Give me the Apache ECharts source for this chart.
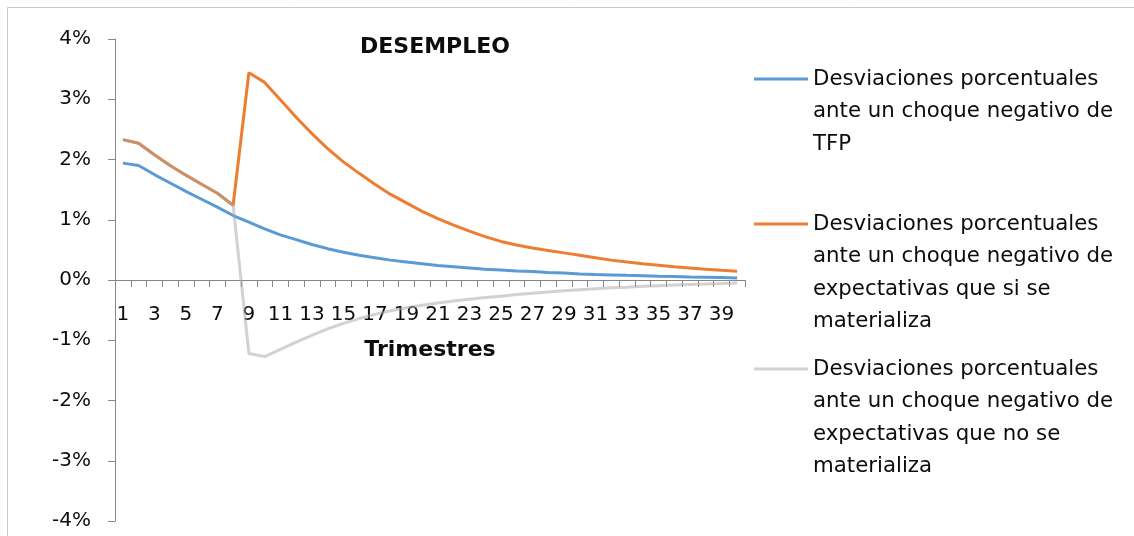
<!DOCTYPE html>
<html>
<head>
<meta charset="utf-8">
<script src="https://cdn.jsdelivr.net/npm/echarts/dist/echarts.min.js"></script>
<style>
	html, body { margin: 0; padding: 0; background: #fff; }
	#chart { width: 1134px; height: 536px; }
</style>
</head>
<body>
<div id="chart"></div>
<script>
// trimestres (eje x)
var quarters = ['1','2','3','4','5','6','7','8','9','10','11','12','13','14','15','16','17','18','19','20',
	'21','22','23','24','25','26','27','28','29','30','31','32','33','34','35','36','37','38','39','40'];

// desviaciones en %
var tfpShock = [1.94,1.90,1.75,1.61,1.47,1.34,1.21,1.07,0.96,0.85,0.75,0.67,0.59,0.52,0.46,0.41,0.37,0.33,0.30,0.27,
	0.24,0.22,0.20,0.18,0.165,0.15,0.14,0.125,0.115,0.10,0.092,0.085,0.077,0.07,0.063,0.057,0.05,0.045,0.04,0.035];
var expectMaterialized = [2.33,2.27,2.08,1.90,1.74,1.59,1.44,1.24,3.44,3.28,2.99,2.70,2.43,2.18,1.96,1.77,1.59,1.42,1.28,1.14,
	1.02,0.91,0.81,0.72,0.64,0.58,0.53,0.49,0.45,0.41,0.37,0.33,0.30,0.27,0.245,0.22,0.20,0.18,0.16,0.145];
var expectNotMaterialized = [2.33,2.27,2.08,1.90,1.74,1.59,1.44,1.24,-1.22,-1.27,-1.15,-1.03,-0.92,-0.81,-0.72,-0.64,-0.57,-0.51,-0.46,-0.42,
	-0.38,-0.35,-0.32,-0.29,-0.27,-0.24,-0.22,-0.20,-0.18,-0.16,-0.145,-0.13,-0.12,-0.105,-0.095,-0.085,-0.075,-0.065,-0.058,-0.05];

// eje y (en %)
var yMin = -4, yMax = 4, yStep = 1;

var seriesNames = [
	'Desviaciones porcentuales ante un choque negativo de TFP',
	'Desviaciones porcentuales ante un choque negativo de expectativas que si se materializa',
	'Desviaciones porcentuales ante un choque negativo de expectativas que no se materializa'
];
// lineas de la leyenda tal como aparecen
var legendLines = [
	['Desviaciones porcentuales', 'ante un choque negativo de', 'TFP'],
	['Desviaciones porcentuales', 'ante un choque negativo de', 'expectativas que si se', 'materializa'],
	['Desviaciones porcentuales', 'ante un choque negativo de', 'expectativas que no se', 'materializa']
];
var seriesColors = ['#5B9BD5', '#ED7D31', 'rgba(165,165,165,0.5)'];

var gridLeft = 115, gridTop = 39, gridW = 630, gridH = 482;
// el eje x va en el cero: se desplaza hacia arriba desde el borde inferior
var xAxisOffset = -gridH * (0 - yMin) / (yMax - yMin);

var legendTop = [79, 224, 369];

var graphics = [{
	type: 'rect',
	shape: { x: 7.5, y: 7.5, width: 1140, height: 540 },
	style: { fill: 'none', stroke: '#C8C8C8', lineWidth: 1 },
	silent: true
}];
for (var i = 0; i < legendLines.length; i++) {
	graphics.push({
		type: 'line',
		shape: { x1: 754, y1: legendTop[i], x2: 808, y2: legendTop[i] },
		style: { stroke: seriesColors[i], lineWidth: 3 }
	});
	graphics.push({
		type: 'text',
		x: 813,
		y: legendTop[i] - 16.25,
		style: {
			text: legendLines[i].join('\n'),
			font: '21.3px "DejaVu Sans"',
			lineHeight: 32.5,
			fill: '#0d0d0d',
			verticalAlign: 'top'
		}
	});
}

var myChart = echarts.init(document.getElementById('chart'));
var option = {
	animation: false,
	backgroundColor: '#fff',
	title: {
		text: 'DESEMPLEO',
		left: 355,
		top: 31,
		textStyle: { fontFamily: 'DejaVu Sans', fontSize: 22, fontWeight: 'bold', color: '#0d0d0d' }
	},
	grid: { left: gridLeft, top: gridTop, width: gridW, height: gridH, containLabel: false, outerBoundsMode: 'none' },
	xAxis: {
		type: 'category',
		data: quarters,
		boundaryGap: true,
		position: 'bottom',
		offset: xAxisOffset,
		name: 'Trimestres',
		nameLocation: 'middle',
		nameGap: 59,
		nameTextStyle: { fontFamily: 'DejaVu Sans', fontSize: 22, fontWeight: 'bold', color: '#0d0d0d' },
		axisLine: { onZero: false, lineStyle: { color: '#868686', width: 1 } },
		axisTick: { show: true, interval: 0, length: 7, lineStyle: { color: '#868686' } },
		axisLabel: { interval: 1, margin: 25, fontFamily: 'DejaVu Sans', fontSize: 20, color: '#0d0d0d' },
		splitLine: { show: false }
	},
	yAxis: {
		type: 'value',
		min: yMin,
		max: yMax,
		interval: yStep,
		axisLine: { show: true, lineStyle: { color: '#868686', width: 1 } },
		axisTick: { show: true, length: 7, lineStyle: { color: '#868686', width: 1 } },
		axisLabel: {
			margin: 24,
			fontFamily: 'DejaVu Sans',
			fontSize: 20,
			color: '#0d0d0d',
			formatter: function (v) { return v + '%'; }
		},
		splitLine: { show: false }
	},
	series: [
		{
			name: seriesNames[0],
			type: 'line',
			data: tfpShock,
			symbol: 'none',
			lineStyle: { color: seriesColors[0], width: 3 }
		},
		{
			name: seriesNames[1],
			type: 'line',
			data: expectMaterialized,
			symbol: 'none',
			lineStyle: { color: seriesColors[1], width: 3 }
		},
		{
			name: seriesNames[2],
			type: 'line',
			data: expectNotMaterialized,
			symbol: 'none',
			lineStyle: { color: '#A5A5A5', opacity: 0.5, width: 3 }
		}
	],
	graphic: graphics
};
myChart.setOption(option);
</script>
</body>
</html>
